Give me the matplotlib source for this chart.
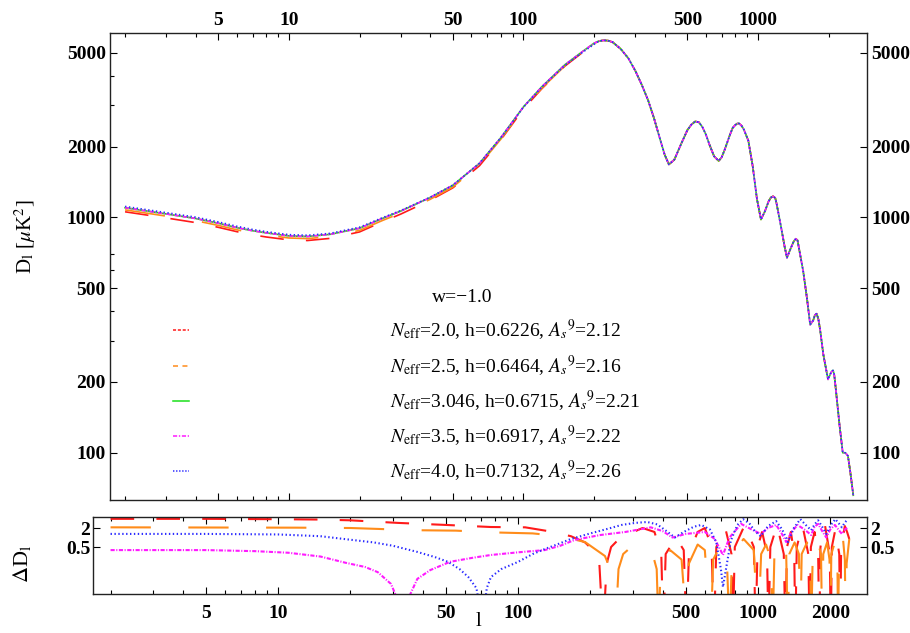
import matplotlib
matplotlib.use("Agg")
import matplotlib.pyplot as plt
from matplotlib.lines import Line2D
import numpy as np

plt.rcParams['font.family'] = ['Liberation Serif', 'DejaVu Serif']
plt.rcParams['mathtext.fontset'] = 'stix'
plt.rcParams['lines.scale_dashes'] = False

# ---------------- data ----------------
neff = ["2.0", "2.5", "3.046", "3.5", "4.0"]
h_vals = ["0.6226", "0.6464", "0.6715", "0.6917", "0.7132"]
As_vals = ["2.12", "2.16", "2.21", "2.22", "2.26"]
colors = ["#ff1a1a", "#ff8c1a", "#1adf1a", "#ff1aff", "#2a2aff"]

# top panel: multipole l and D_l [muK^2]
ell_low = [2, 3, 4, 5, 6, 7, 8, 10, 12, 15, 20, 25, 30, 40, 50, 65, 80, 100, 120, 150, 180, 200]
D_ref_low = [1100, 1035, 990, 945, 905, 878, 860, 835, 830, 848, 900, 990, 1065, 1215, 1370, 1700,
             2180, 2950, 3600, 4450, 5100, 5500]
D_red_low = [1057, 995, 951, 908, 870, 844, 826, 803, 798, 815, 868, 958, 1034, 1183, 1336, 1660,
             2134, 2891, 3532, 4392, 5057, 5472]
D_orange_low = [1077, 1013, 969, 925, 886, 860, 842, 818, 813, 830, 881, 970, 1044, 1194, 1347, 1673,
                2149, 2909, 3550, 4401, 5064, 5478]
D_blue_low = [1114, 1048, 1003, 957, 917, 889, 870, 845, 840, 856, 909, 997, 1070, 1219, 1372, 1701,
              2178, 2945, 3590, 4425, 5060, 5440]
ell_high = [210, 220, 230, 240, 260, 280, 300, 320, 340, 360, 380, 400, 417, 440, 470, 500, 520, 540,
            560, 580, 600, 620, 650, 680, 700, 720, 760, 780, 800, 815, 830, 850, 870, 910, 950, 990,
            1030, 1070, 1110, 1135, 1160, 1185, 1200, 1250, 1300, 1330, 1380, 1420, 1450, 1475, 1500,
            1560, 1620, 1670, 1720, 1750, 1780, 1810, 1840, 1900, 1990, 2040, 2065, 2090, 2115, 2150,
            2230, 2300, 2360, 2420, 2480, 2550]
D_high = [5620, 5660, 5640, 5560, 5200, 4750, 4200, 3650, 3150, 2650, 2200, 1850, 1680, 1760, 2050,
          2350, 2480, 2560, 2540, 2420, 2250, 2050, 1820, 1740, 1800, 1930, 2250, 2400, 2470, 2505,
          2510, 2460, 2370, 2120, 1650, 1200, 980, 1060, 1170, 1215, 1230, 1210, 1150, 930, 750, 675,
          740, 790, 812, 800, 730, 590, 450, 350, 365, 385, 390, 370, 335, 262, 205, 217, 222, 224,
          215, 185, 130, 100, 100, 97, 82, 66]

# bottom panel: |Delta D_l| (percent) per series
ell_d_red = [2, 5, 10, 15, 20, 31.6, 50, 77, 107, 133, 166, 190, 205, 218, 226, 234, 244, 265, 290, 330,
             370, 395, 403, 412, 455, 490, 503, 515, 560, 600, 640, 655, 670, 730, 775, 785, 800, 880,
             960, 977, 995, 1040, 1090, 1105, 1125, 1200, 1280, 1300, 1320, 1370, 1415, 1430, 1450,
             1530, 1620, 1640, 1660, 1720, 1780, 1800, 1820, 1900, 1990, 2010, 2030, 2100, 2180, 2200,
             2220, 2300, 2350, 2400]
d_red = [3.9, 3.9, 3.8, 3.7, 3.5, 2.9, 2.5, 2.15, 2.1, 1.6, 1.1, 0.7, 0.4, 0.15, 0.001, 0.15, 0.5, 0.95,
         1.3, 2.0, 1.5, 0.3, 0.001, 0.3, 1.0, 0.4, 0.001, 0.3, 1.5, 2.0, 0.5, 0.001, 0.5, 2.0, 0.3, 0.001,
         0.5, 2.5, 0.5, 0.001, 0.5, 1.5, 0.3, 0.001, 0.5, 2.5, 0.3, 0.001, 0.5, 1.5, 0.3, 0.001, 0.5,
         2.5, 0.3, 0.001, 0.5, 1.5, 0.3, 0.001, 0.5, 2.5, 0.3, 0.001, 0.5, 1.8, 0.3, 0.001, 0.5, 2.3,
         1.5, 0.9]
ell_d_orange = [2, 12, 20, 38, 55, 79, 115, 150, 190, 230, 245, 254, 262, 274, 300, 330, 360, 378, 385,
                392, 430, 480, 505, 515, 560, 600, 635, 650, 700, 740, 760, 780, 870, 960, 1000, 1030,
                1080, 1130, 1150, 1170, 1250, 1310, 1330, 1350, 1420, 1480, 1500, 1520, 1600, 1650,
                1665, 1690, 1760, 1830, 1850, 1870, 1940, 1985, 2000, 2020, 2100, 2140, 2155, 2175,
                2260, 2300, 2320, 2340, 2400]
d_orange = [2.1, 2.05, 2.0, 1.7, 1.65, 1.45, 1.35, 1.1, 0.72, 0.26, 0.08, 0.001, 0.1, 0.3, 0.55, 0.6,
            0.4, 0.1, 0.001, 0.1, 0.4, 0.2, 0.001, 0.15, 0.6, 0.4, 0.001, 0.2, 0.6, 0.3, 0.001, 0.3, 0.9,
            0.4, 0.001, 0.3, 0.6, 0.2, 0.001, 0.3, 0.9, 0.3, 0.001, 0.3, 0.7, 0.3, 0.001, 0.3, 0.7, 0.2,
            0.001, 0.3, 0.9, 0.3, 0.001, 0.3, 0.7, 0.2, 0.001, 0.3, 0.8, 0.3, 0.001, 0.3, 0.9, 0.2,
            0.001, 0.15, 0.9]
ell_d_magenta = [2, 5, 8, 11, 15, 19, 23, 26, 29.5, 32, 33, 34.5, 38, 43, 52, 65, 77, 100, 129, 150, 172,
                 220, 280, 357, 400, 440, 500, 600, 660, 714, 760, 850, 940, 1026, 1100, 1190, 1250,
                 1310, 1380, 1460, 1560, 1665, 1720, 1780, 1850, 1925, 2000, 2090, 2160, 2235, 2300,
                 2370]
d_magenta = [0.40, 0.40, 0.37, 0.33, 0.25, 0.16, 0.117, 0.08, 0.034, 0.008, 0.001, 0.01, 0.049, 0.093,
             0.17, 0.23, 0.28, 0.34, 0.4, 0.55, 0.84, 1.2, 1.5, 2.1, 1.6, 1.0, 1.3, 1.5, 0.9, 0.28, 1.0,
             2.7, 1.8, 1.3, 2.0, 2.5, 1.4, 0.72, 1.5, 2.5, 1.8, 1.2, 2.2, 2.7, 1.6, 1.0, 1.8, 2.5, 1.8,
             1.3, 1.8, 2.1]
ell_d_blue = [2, 5, 10, 15, 20, 25, 30, 38, 45, 51, 57, 62, 67, 71, 74, 77, 85, 100, 115, 129, 145, 166,
              200, 237, 270, 307, 345, 380, 420, 450, 490, 540, 580, 630, 670, 700, 714, 735, 770, 820,
              867, 920, 970, 1026, 1100, 1190, 1260, 1334, 1410, 1500, 1580, 1665, 1720, 1780, 1850,
              1925, 2010, 2100, 2170, 2235, 2300, 2370]
d_blue = [1.3, 1.3, 1.25, 1.1, 0.85, 0.7, 0.55, 0.35, 0.24, 0.17, 0.1, 0.056, 0.025, 0.002, 0.025, 0.056,
          0.1, 0.17, 0.3, 0.43, 0.6, 0.9, 1.35, 1.9, 2.5, 2.9, 3.1, 2.6, 1.5, 1.0, 1.5, 2.2, 2.5, 1.8, 0.7,
          0.1, 0.027, 0.1, 0.8, 2.5, 3.8, 2.8, 1.6, 1.1, 2.3, 3.3, 1.8, 0.72, 2.0, 3.8, 2.5, 1.7, 2.6,
          3.5, 2.2, 1.3, 2.5, 3.8, 2.8, 2.1, 3.0, 3.8]

top_x_major = [5, 10, 50, 100, 500, 1000]
top_x_minor = [2, 3, 4, 6, 7, 8, 9, 20, 30, 40, 60, 70, 80, 90, 200, 300, 400, 600, 700, 800, 900, 2000]
top_y_major = [100, 200, 500, 1000, 2000, 5000]
top_y_minor = [300, 400, 600, 700, 3000, 4000]
bot_x_major = [5, 10, 50, 100, 500, 1000, 2000]
bot_x_minor = [2, 3, 4, 6, 7, 8, 9, 20, 30, 40, 60, 70, 80, 90, 200, 300, 400, 600, 700, 800, 900]
bot_y_major = [0.5, 2]

# ---------------- figure ----------------
W, H = 910, 633
fig = plt.figure(figsize=(W / 100, H / 100), dpi=100)
ax1 = fig.add_axes([110 / W, 1 - 500 / H, 757 / W, 467 / H])
ax2 = fig.add_axes([93 / W, 1 - 594 / H, 774 / W, 77 / H])

styles = [(0, (17, 16)), (0, (29, 27)), '-', (0, (3.0, 1.1, 0.8, 1.1)), (0, (1.0, 1.8))]
leg_styles = [(0, (2.2, 1.3)), (0, (3.6, 3.2)), '-', (0, (3.0, 1.2, 1.0, 1.2)), (0, (1.0, 1.2))]

ell_top = ell_low + ell_high
D_series = [D_red_low + D_high, D_orange_low + D_high, D_ref_low + D_high,
            D_ref_low + D_high, D_blue_low + D_high]
for D, c, ls in zip(D_series, colors, styles):
    ax1.plot(ell_top, D, color=c, ls=ls, lw=1.2, dash_capstyle='butt')

ax1.set_xscale('log')
ax1.set_yscale('log')
ax1.set_xlim(1.725, 2918)
ax1.set_ylim(63, 6080)

# bottom panel
bottom_data = [(ell_d_red, d_red, 0), (ell_d_orange, d_orange, 1),
               (ell_d_magenta, d_magenta, 3), (ell_d_blue, d_blue, 4)]
for ell, d, i in bottom_data:
    ax2.plot(ell, d, color=colors[i], ls=styles[i], lw=1.5, dash_capstyle='butt')
ax2.set_xscale('log')
ax2.set_yscale('log')
ax2.set_xlim(1.69, 2845)
ax2.set_ylim(0.0163, 4.46)

tick_font = dict(fontsize=14, fontweight='bold')
for ax in (ax1, ax2):
    for s in ax.spines.values():
        s.set_linewidth(1.0)
        s.set_color('#222222')
    ax.minorticks_off()

ax1.set_xticks(top_x_major)
ax1.set_xticklabels([str(v) for v in top_x_major], **tick_font)
ax1.set_xticks(top_x_minor, minor=True)
ax1.set_xticklabels([], minor=True)
ax1.set_yticks(top_y_major)
ax1.set_yticklabels([str(v) for v in top_y_major], **tick_font)
ax1.set_yticks(top_y_minor, minor=True)
ax1.set_yticklabels([], minor=True)
ax1.tick_params(axis='x', which='both', direction='in', top=True, bottom=True,
                labeltop=True, labelbottom=False, pad=3)
ax1.tick_params(axis='y', which='both', direction='in', left=True, right=True,
                labelleft=True, labelright=True, pad=3)
ax1.tick_params(axis='y', which='minor', right=False)
ax1.tick_params(which='major', length=5, width=0.8)
ax1.tick_params(which='minor', length=3, width=0.8)

ax2.set_xticks(bot_x_major)
ax2.set_xticklabels([str(v) for v in bot_x_major], **tick_font)
ax2.set_xticks(bot_x_minor, minor=True)
ax2.set_xticklabels([], minor=True)
ax2.set_yticks(bot_y_major)
ax2.set_yticklabels(["0.5", "2"], **tick_font)
ax2.tick_params(axis='x', which='both', direction='in', top=True, bottom=True,
                labeltop=False, labelbottom=True, pad=8)
ax2.tick_params(axis='y', which='both', direction='in', left=True, right=True,
                labelleft=True, labelright=True, pad=2)
ax2.tick_params(which='major', length=5, width=0.8)
ax2.tick_params(which='minor', length=3, width=0.8)

# labels
fig.text(25 / W, 1 - 237 / H, r'D$_\mathrm{l}$ [$\mu$K$^2$]', rotation=90,
         ha='center', va='center', fontsize=15)
fig.text(22 / W, 1 - 564 / H, r'$\Delta$D$_\mathrm{l}$', rotation=90,
         ha='center', va='center', fontsize=16)
fig.text(479 / W, 1 - 621 / H, 'l', ha='center', va='center', fontsize=15)

# legend
fig.text(462 / W, 1 - 297 / H, 'w=\u22121.0', ha='center', va='center', fontsize=14)
row_y = [330, 366, 401, 436, 471]
for i in range(5):
    y = 1 - row_y[i] / H
    fig.add_artist(Line2D([173 / W, 189 / W], [y, y], color=colors[i], ls=leg_styles[i],
                          lw=1.1, transform=fig.transFigure, dash_capstyle='butt'))
    label = (r'$N_{\rm eff}$=' + neff[i] + ', h=' + h_vals[i] + r', $A_s{}^9$=' + As_vals[i])
    fig.text(390 / W, y, label, ha='left', va='center', fontsize=14)

fig.savefig('out.png', dpi=100)
